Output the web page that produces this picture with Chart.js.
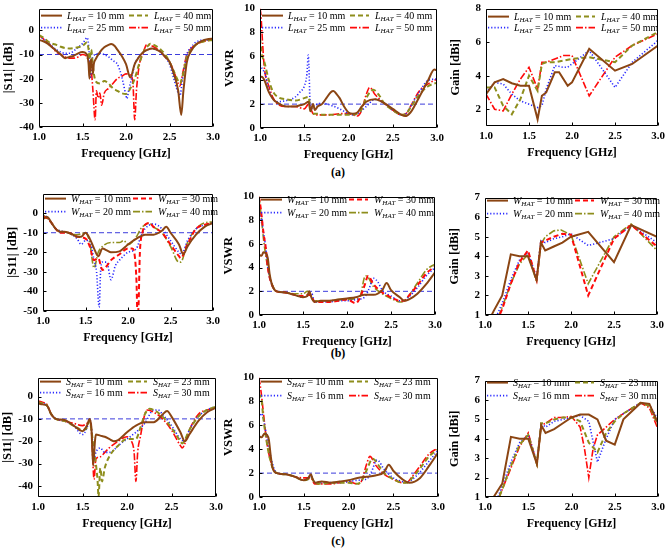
<!DOCTYPE html>
<html><head><meta charset="utf-8">
<script src="https://cdn.jsdelivr.net/npm/chart.js@4.4.0/dist/chart.umd.min.js"></script>
<style>
html,body{margin:0;padding:0;background:#fff;}
body{width:669px;height:549px;position:relative;overflow:hidden;font-family:"Liberation Serif",serif;}
canvas{position:absolute;}
.cap{position:absolute;font:bold 12px "Liberation Serif",serif;color:#000;transform:translate(-50%,-50%);white-space:nowrap;}
</style></head><body>
<div class="cap" style="left:338px;top:172px">(a)</div>
<div class="cap" style="left:338px;top:353px">(b)</div>
<div class="cap" style="left:338px;top:541px">(c)</div>
<script>
// ---------- tick labels ----------
const X_TICKS = [1.0, 1.5, 2.0, 2.5, 3.0];
const S11_TICKS_A = [-40, -30, -20, -10, 0];
const S11_TICKS_B = [-50, -40, -30, -20, -10, 0];
const S11_TICKS_C = [-40, -30, -20, -10, 0];
const VSWR_TICKS = [0, 2, 4, 6, 8, 10];
const GAIN_TICKS_A = [2, 4, 6, 8];
const GAIN_TICKS_BC = [1, 2, 3, 4, 5, 6, 7];

// ---------- (a) L_HAT ----------
const s11a_L10 = [[1.0,-4],[1.05,-4.5],[1.1,-5.5],[1.15,-7],[1.2,-8.5],[1.25,-10],[1.3,-11.5],[1.35,-11],[1.4,-10.5],[1.45,-9.5],[1.5,-9],[1.55,-10],[1.57,-14],[1.58,-20],[1.59,-14],[1.6,-12],[1.61,-15],[1.62,-18],[1.63,-14],[1.65,-12],[1.7,-9],[1.75,-7],[1.8,-6],[1.83,-5.7],[1.87,-6.5],[1.9,-8],[1.95,-10.5],[2.0,-14],[2.05,-19.5],[2.1,-14],[2.15,-11],[2.2,-9],[2.25,-8],[2.3,-7.5],[2.35,-8],[2.4,-9],[2.45,-11],[2.5,-13],[2.55,-18],[2.6,-25],[2.635,-35],[2.66,-25],[2.7,-13],[2.75,-8.5],[2.8,-6],[2.85,-4.8],[2.9,-4],[2.95,-3.6],[3.0,-3.5]];
const s11a_L25 = [[1.0,-2.5],[1.05,-3.5],[1.1,-5],[1.15,-6.5],[1.2,-8],[1.25,-9],[1.3,-9.5],[1.35,-9.5],[1.4,-8.5],[1.45,-7],[1.5,-5.5],[1.53,-4],[1.55,-3],[1.57,-6],[1.58,-12],[1.59,-20],[1.6,-14],[1.62,-11],[1.65,-10],[1.7,-9.5],[1.75,-10],[1.8,-11],[1.85,-12.5],[1.9,-14],[1.95,-19],[2.0,-27],[2.01,-28.3],[2.03,-25],[2.07,-19],[2.1,-14],[2.15,-11],[2.2,-9],[2.25,-8],[2.3,-7.5],[2.35,-8],[2.4,-9],[2.45,-11],[2.5,-14],[2.55,-20],[2.6,-26],[2.62,-27],[2.65,-20],[2.7,-10],[2.75,-7],[2.8,-5],[2.9,-4],[3.0,-4]];
const s11a_L40 = [[1.0,-2],[1.05,-3],[1.1,-4.5],[1.15,-5.5],[1.2,-6],[1.25,-6.8],[1.3,-7.3],[1.35,-7.5],[1.4,-7.3],[1.45,-7],[1.5,-6.5],[1.55,-5],[1.57,-8],[1.58,-12],[1.6,-8],[1.62,-15],[1.65,-21],[1.7,-22],[1.75,-21],[1.8,-22],[1.85,-24],[1.9,-25],[1.95,-26],[2.0,-26.3],[2.05,-24],[2.1,-20],[2.15,-14],[2.2,-9],[2.25,-6.5],[2.28,-5.5],[2.32,-6],[2.4,-8],[2.45,-10],[2.5,-13],[2.55,-17],[2.6,-21],[2.62,-22],[2.65,-19],[2.7,-11],[2.75,-8],[2.8,-6],[2.9,-4.5],[3.0,-4]];
const s11a_L50 = [[1.0,-2],[1.05,-3.5],[1.1,-5],[1.15,-7],[1.2,-9],[1.25,-10],[1.3,-11],[1.35,-11.5],[1.4,-11.5],[1.45,-11],[1.5,-10],[1.55,-11],[1.58,-14],[1.6,-16],[1.62,-25],[1.645,-37],[1.66,-25],[1.68,-28],[1.7,-26],[1.72,-31],[1.75,-26],[1.8,-24],[1.85,-22],[1.9,-20],[1.95,-19],[2.0,-18],[2.05,-18.5],[2.08,-22],[2.1,-37],[2.12,-25],[2.15,-15],[2.2,-9],[2.24,-5.8],[2.3,-6.5],[2.35,-7.5],[2.4,-9],[2.45,-11],[2.5,-13],[2.55,-17],[2.6,-22],[2.62,-23],[2.65,-18],[2.7,-10],[2.75,-7.5],[2.8,-6],[2.9,-4.5],[3.0,-4]];

const vswr_a_L10 = [[1.0,4.2],[1.02,4.3],[1.05,4.0],[1.1,3.0],[1.15,2.4],[1.2,2.1],[1.25,1.9],[1.3,1.8],[1.35,1.8],[1.4,1.8],[1.45,1.9],[1.5,2.0],[1.55,2.2],[1.57,1.4],[1.6,2.0],[1.62,1.5],[1.65,1.8],[1.7,2.0],[1.75,2.5],[1.8,3.0],[1.83,3.1],[1.87,2.8],[1.9,2.5],[1.95,1.8],[2.0,1.3],[2.05,1.2],[2.1,1.3],[2.15,1.8],[2.2,2.2],[2.3,2.4],[2.4,2.1],[2.5,1.6],[2.6,1.1],[2.64,1.0],[2.7,1.3],[2.75,1.9],[2.8,2.6],[2.85,3.3],[2.9,4.0],[2.97,4.9],[3.0,4.8]];
const vswr_a_L25 = [[1.0,5.3],[1.03,4.9],[1.06,4.5],[1.1,3.2],[1.15,2.4],[1.2,2.2],[1.3,2.3],[1.4,2.6],[1.45,3.0],[1.5,3.5],[1.53,4.5],[1.546,6.1],[1.57,1.5],[1.6,1.8],[1.65,2.0],[1.7,2.1],[1.8,1.9],[1.9,1.6],[2.0,1.2],[2.05,1.1],[2.1,1.2],[2.2,1.8],[2.3,2.4],[2.4,2.1],[2.5,1.5],[2.6,1.1],[2.65,1.2],[2.7,1.8],[2.8,3.0],[2.9,4.0],[3.0,4.1]];
const vswr_a_L40 = [[1.0,7.5],[1.02,6.2],[1.05,5.5],[1.1,4.0],[1.15,3.0],[1.2,2.6],[1.3,2.4],[1.4,2.3],[1.5,2.5],[1.55,2.6],[1.57,1.5],[1.6,1.2],[1.65,1.2],[1.7,1.1],[1.8,1.1],[1.9,1.1],[2.0,1.1],[2.1,1.2],[2.15,1.6],[2.2,2.5],[2.28,3.2],[2.35,2.7],[2.4,2.1],[2.5,1.5],[2.6,1.1],[2.65,1.2],[2.7,1.7],[2.8,2.8],[2.9,3.5],[3.0,3.8]];
const vswr_a_L50 = [[1.0,10],[1.01,9.5],[1.03,7],[1.05,5],[1.1,3.5],[1.15,2.5],[1.2,2.0],[1.3,1.8],[1.4,1.8],[1.5,1.6],[1.55,2.0],[1.58,1.5],[1.6,1.2],[1.65,1.1],[1.8,1.1],[1.9,1.2],[2.0,1.2],[2.1,1.0],[2.15,1.5],[2.2,2.8],[2.24,3.4],[2.3,2.8],[2.4,2.1],[2.5,1.5],[2.6,1.1],[2.65,1.2],[2.7,1.8],[2.8,3.1],[2.9,3.7],[3.0,4.1]];

const gain_a_L10 = [[1.0,2.9],[1.1,3.6],[1.2,3.8],[1.3,3.55],[1.4,3.4],[1.5,3.4],[1.6,1.4],[1.65,2.8],[1.7,3.0],[1.8,4.2],[1.85,4.2],[1.95,3.4],[2.0,3.6],[2.2,5.6],[2.5,4.3],[2.7,4.7],[3.0,5.8]];
const gain_a_L25 = [[1.0,3.0],[1.1,3.6],[1.2,3.5],[1.3,2.9],[1.4,2.5],[1.5,2.3],[1.6,2.1],[1.65,2.2],[1.7,3.2],[1.8,4.6],[1.9,4.5],[1.95,4.5],[2.0,4.7],[2.2,5.5],[2.5,3.3],[2.7,4.8],[3.0,6.1]];
const gain_a_L40 = [[1.0,3.3],[1.1,3.3],[1.2,2.2],[1.3,1.7],[1.4,2.6],[1.5,4.0],[1.6,3.1],[1.65,4.7],[1.7,4.8],[1.8,4.8],[2.0,5.0],[2.2,5.1],[2.5,4.8],[2.7,5.8],[3.0,6.6]];
const gain_a_L50 = [[1.0,2.9],[1.1,2.0],[1.2,1.9],[1.3,2.9],[1.4,3.8],[1.5,4.5],[1.6,3.2],[1.65,4.8],[1.7,4.8],[1.8,5.0],[1.9,5.2],[2.0,5.2],[2.2,2.8],[2.5,5.1],[2.7,5.8],[3.0,6.5]];

// ---------- (b) W_HAT ----------
const s11b_W10 = [[1.0,-3],[1.05,-2],[1.1,-5],[1.15,-8],[1.2,-9.5],[1.25,-9.5],[1.3,-10],[1.35,-11],[1.4,-12],[1.45,-12],[1.5,-10],[1.55,-13],[1.6,-18],[1.65,-22],[1.7,-18],[1.75,-19],[1.8,-20],[1.9,-19.5],[2.0,-16],[2.1,-13],[2.2,-11],[2.3,-11],[2.4,-9],[2.45,-7],[2.5,-10],[2.6,-16],[2.65,-21],[2.7,-17],[2.8,-11],[2.9,-7],[3.0,-5]];
const s11b_W20 = [[1.0,-1],[1.05,-2],[1.1,-5],[1.15,-8],[1.2,-9],[1.3,-10],[1.4,-13],[1.45,-16],[1.5,-14],[1.55,-14],[1.6,-24],[1.63,-30],[1.66,-48],[1.68,-28],[1.7,-25],[1.75,-25],[1.8,-34],[1.85,-27],[1.9,-24],[2.0,-20],[2.1,-18],[2.15,-12],[2.2,-8],[2.3,-5.5],[2.4,-8],[2.5,-14],[2.6,-20],[2.63,-21],[2.7,-14],[2.8,-8],[2.9,-6],[3.0,-5]];
const s11b_W30 = [[1.0,-2],[1.05,-2.5],[1.1,-5],[1.15,-8],[1.2,-10],[1.3,-10],[1.4,-12],[1.5,-13],[1.55,-17],[1.6,-24],[1.65,-23],[1.7,-29],[1.75,-27],[1.8,-24],[1.9,-21],[2.0,-18],[2.05,-18],[2.08,-22],[2.1,-35],[2.11,-50],[2.12,-50],[2.14,-20],[2.17,-10],[2.2,-6],[2.25,-5],[2.3,-7],[2.4,-10],[2.5,-16],[2.6,-22],[2.62,-23],[2.7,-16],[2.8,-8],[2.9,-6],[3.0,-5]];
const s11b_W40 = [[1.0,-1],[1.05,-2.5],[1.1,-5],[1.15,-8],[1.2,-9],[1.3,-10],[1.4,-11],[1.5,-10],[1.55,-15],[1.6,-28],[1.65,-20],[1.7,-17],[1.8,-15],[1.9,-15],[1.95,-14],[2.0,-16],[2.1,-12],[2.15,-8],[2.2,-6],[2.25,-5],[2.3,-7],[2.4,-10],[2.5,-17],[2.6,-25],[2.62,-25],[2.7,-15],[2.8,-8],[2.9,-5],[3.0,-4.5]];

const vswr_b_W10 = [[1.0,5.1],[1.03,5.0],[1.05,5.3],[1.08,5.2],[1.1,4.8],[1.12,3.5],[1.15,2.5],[1.2,2.0],[1.3,1.9],[1.4,1.7],[1.5,1.5],[1.55,1.6],[1.57,2.0],[1.6,1.4],[1.63,1.1],[1.7,1.2],[1.8,1.2],[1.9,1.3],[2.0,1.4],[2.1,1.5],[2.2,1.7],[2.3,1.7],[2.4,2.1],[2.45,2.7],[2.5,2.1],[2.6,1.5],[2.65,1.2],[2.7,1.3],[2.8,1.8],[2.9,2.6],[3.0,3.6]];
const vswr_b_W20 = [[1.0,7.5],[1.02,8.6],[1.05,7.0],[1.08,5.5],[1.1,4.0],[1.15,2.5],[1.2,2.0],[1.3,1.9],[1.4,1.7],[1.5,1.5],[1.55,1.6],[1.6,1.8],[1.63,1.1],[1.7,1.1],[1.8,1.1],[1.9,1.2],[2.0,1.2],[2.1,1.3],[2.2,1.5],[2.25,2.2],[2.3,3.1],[2.35,2.8],[2.4,2.1],[2.5,1.6],[2.6,1.2],[2.65,1.2],[2.7,1.5],[2.8,2.3],[2.9,3.3],[3.0,4.0]];
const vswr_b_W30 = [[1.0,10],[1.02,9],[1.05,7],[1.08,5.5],[1.1,4],[1.15,2.5],[1.2,2.0],[1.3,1.9],[1.4,1.7],[1.5,1.6],[1.55,1.7],[1.6,1.6],[1.63,1.1],[1.7,1.1],[1.8,1.1],[1.9,1.2],[2.0,1.3],[2.1,1.0],[2.15,1.5],[2.2,2.5],[2.24,3.3],[2.3,2.6],[2.4,1.9],[2.5,1.5],[2.6,1.2],[2.65,1.2],[2.7,1.6],[2.8,2.5],[2.9,3.5],[3.0,4.1]];
const vswr_b_W40 = [[1.0,10],[1.03,8],[1.05,6.5],[1.1,4],[1.15,2.6],[1.2,2.0],[1.3,1.9],[1.4,1.8],[1.5,1.8],[1.55,2.0],[1.58,1.8],[1.62,1.2],[1.7,1.2],[1.8,1.2],[1.9,1.3],[2.0,1.3],[2.1,1.4],[2.15,1.6],[2.2,3.2],[2.22,3.3],[2.3,2.4],[2.4,1.8],[2.5,1.4],[2.6,1.1],[2.65,1.2],[2.7,1.6],[2.8,2.7],[2.9,3.8],[3.0,4.3]];

const gain_b_W10 = [[1.0,0.3],[1.1,1.2],[1.2,2.0],[1.3,4.1],[1.4,4.0],[1.5,4.0],[1.6,2.8],[1.65,4.7],[1.7,4.3],[1.8,4.5],[1.9,4.7],[2.0,5.0],[2.2,5.25],[2.5,3.7],[2.7,5.6],[3.0,5.0]];
const gain_b_W20 = [[1.1,0.6],[1.2,1.6],[1.3,2.8],[1.4,3.8],[1.5,4.2],[1.6,2.9],[1.65,4.8],[1.7,4.7],[1.8,4.9],[1.9,5.0],[2.0,5.15],[2.2,4.55],[2.5,4.9],[2.7,5.6],[3.0,4.7]];
const gain_b_W30 = [[1.1,0.3],[1.2,1.3],[1.3,2.6],[1.4,3.7],[1.5,4.3],[1.6,2.8],[1.65,4.7],[1.7,4.8],[1.8,5.0],[1.9,5.15],[2.0,5.1],[2.2,2.0],[2.5,4.9],[2.7,5.6],[3.0,4.5]];
const gain_b_W40 = [[1.1,0.3],[1.2,1.4],[1.3,2.6],[1.4,3.6],[1.5,4.1],[1.6,2.7],[1.65,4.6],[1.7,5.0],[1.8,5.3],[1.88,5.35],[2.0,5.1],[2.2,2.6],[2.5,5.0],[2.7,5.65],[3.0,4.3]];

// ---------- (c) S_HAT ----------
const s11c_S10 = [[1.0,-3],[1.05,-3.5],[1.1,-4],[1.15,-8],[1.2,-10],[1.3,-10.5],[1.4,-13],[1.5,-15.5],[1.55,-13],[1.58,-10],[1.6,-14],[1.62,-31],[1.64,-20],[1.65,-17],[1.7,-17.5],[1.75,-18],[1.8,-19],[1.85,-20],[1.9,-19.5],[2.0,-16],[2.1,-13],[2.2,-11.5],[2.3,-11.5],[2.4,-8],[2.45,-6.5],[2.5,-9],[2.6,-16],[2.65,-20],[2.7,-17],[2.8,-11],[2.9,-7],[3.0,-5]];
const s11c_S16 = [[1.0,-2.5],[1.05,-3],[1.1,-4],[1.15,-8],[1.2,-10],[1.3,-11],[1.4,-13],[1.5,-17],[1.55,-14],[1.58,-10],[1.6,-14],[1.63,-28],[1.65,-25],[1.7,-23],[1.75,-25],[1.8,-25],[1.85,-24],[1.9,-22],[2.0,-19],[2.1,-16],[2.2,-12],[2.3,-6],[2.35,-6],[2.4,-8],[2.5,-13],[2.6,-19],[2.65,-20],[2.7,-15],[2.8,-9],[2.9,-6],[3.0,-4.5]];
const s11c_S23 = [[1.0,-2.5],[1.05,-3],[1.1,-4],[1.15,-8],[1.2,-10],[1.3,-11],[1.4,-13],[1.5,-15],[1.55,-14],[1.58,-11],[1.6,-15],[1.63,-25],[1.65,-30],[1.67,-38],[1.68,-45],[1.7,-32],[1.72,-38],[1.75,-32],[1.8,-27],[1.9,-22],[2.0,-19],[2.05,-19],[2.1,-19],[2.15,-14],[2.2,-8],[2.25,-5.5],[2.3,-6],[2.4,-9],[2.5,-14],[2.6,-20],[2.62,-21],[2.7,-15],[2.8,-9],[2.9,-6],[3.0,-4.5]];
const s11c_S30 = [[1.0,-2],[1.05,-2.5],[1.1,-3.5],[1.15,-8],[1.2,-10],[1.3,-11],[1.4,-12],[1.5,-13],[1.55,-12],[1.58,-11],[1.6,-15],[1.63,-37],[1.65,-28],[1.7,-27],[1.75,-25],[1.8,-23],[1.9,-20],[2.0,-18],[2.05,-20],[2.08,-25],[2.1,-38],[2.12,-25],[2.15,-18],[2.2,-8],[2.23,-6],[2.3,-7],[2.4,-10],[2.5,-15],[2.6,-22],[2.62,-23],[2.7,-15],[2.8,-8],[2.9,-6],[3.0,-5]];

const vswr_c_S10 = [[1.0,5.1],[1.03,5.0],[1.06,5.3],[1.09,5.2],[1.11,4.8],[1.13,3.5],[1.15,2.5],[1.2,2.0],[1.3,1.9],[1.4,1.7],[1.5,1.4],[1.55,1.6],[1.58,1.9],[1.6,1.5],[1.63,1.2],[1.7,1.3],[1.8,1.2],[1.9,1.3],[2.0,1.4],[2.1,1.6],[2.2,1.7],[2.3,1.8],[2.4,2.1],[2.45,2.7],[2.5,2.2],[2.6,1.5],[2.68,1.2],[2.8,1.6],[2.9,2.6],[3.0,3.7]];
const vswr_c_S16 = [[1.0,6.6],[1.03,7.0],[1.05,6.5],[1.1,4.5],[1.15,2.8],[1.2,2.0],[1.3,1.9],[1.4,1.7],[1.5,1.4],[1.55,1.5],[1.58,1.8],[1.6,1.5],[1.63,1.2],[1.7,1.2],[1.8,1.2],[1.9,1.2],[2.0,1.3],[2.1,1.4],[2.2,1.5],[2.25,2.0],[2.32,3.1],[2.4,2.3],[2.5,1.6],[2.6,1.3],[2.65,1.2],[2.7,1.4],[2.8,2.1],[2.9,3.0],[3.0,3.9]];
const vswr_c_S23 = [[1.0,8.3],[1.02,8.5],[1.05,6.5],[1.1,4.0],[1.15,2.5],[1.2,2.0],[1.3,1.9],[1.4,1.7],[1.5,1.4],[1.55,1.5],[1.58,1.7],[1.62,1.2],[1.7,1.1],[1.8,1.2],[1.9,1.2],[2.0,1.2],[2.1,1.1],[2.15,1.4],[2.2,2.2],[2.27,3.2],[2.35,2.5],[2.4,2.0],[2.5,1.5],[2.6,1.2],[2.65,1.2],[2.7,1.5],[2.8,2.4],[2.9,3.4],[3.0,4.0]];
const vswr_c_S30 = [[1.0,10],[1.02,9.0],[1.05,7],[1.08,5],[1.1,4],[1.15,2.5],[1.2,2.0],[1.3,1.9],[1.4,1.7],[1.5,1.6],[1.55,1.6],[1.58,1.6],[1.62,1.1],[1.7,1.1],[1.8,1.1],[1.9,1.2],[2.0,1.3],[2.1,1.1],[2.15,1.4],[2.2,2.7],[2.24,3.4],[2.3,2.7],[2.4,1.9],[2.5,1.5],[2.6,1.2],[2.65,1.2],[2.7,1.6],[2.8,2.6],[2.9,3.6],[3.0,4.1]];

const gain_c_S10 = [[1.0,0.4],[1.1,1.0],[1.2,1.7],[1.3,4.1],[1.4,4.0],[1.5,4.0],[1.6,2.7],[1.65,4.7],[1.7,4.3],[1.8,4.5],[1.9,4.8],[2.0,5.1],[2.1,5.25],[2.2,5.25],[2.3,5.0],[2.4,3.9],[2.5,3.7],[2.6,5.0],[2.8,5.85],[2.9,5.8],[3.0,4.8]];
const gain_c_S16 = [[1.1,0.4],[1.2,1.6],[1.3,2.8],[1.4,3.8],[1.5,4.2],[1.6,2.8],[1.65,4.8],[1.7,4.6],[1.8,4.9],[1.9,5.0],[2.0,5.1],[2.1,5.2],[2.2,4.9],[2.3,2.8],[2.4,4.0],[2.5,5.0],[2.6,5.3],[2.8,5.85],[2.9,5.75],[3.0,5.0]];
const gain_c_S23 = [[1.1,0.3],[1.2,1.4],[1.3,2.6],[1.4,3.7],[1.5,4.2],[1.6,2.7],[1.65,4.8],[1.7,4.8],[1.8,5.0],[1.9,5.1],[2.0,5.1],[2.1,4.9],[2.2,3.8],[2.3,3.3],[2.4,4.3],[2.5,4.9],[2.6,5.3],[2.8,5.85],[2.9,5.7],[3.0,4.7]];
const gain_c_S30 = [[1.1,0.3],[1.2,1.4],[1.3,2.5],[1.4,3.6],[1.5,4.3],[1.6,2.7],[1.65,4.7],[1.7,4.8],[1.8,5.1],[1.9,5.1],[2.0,5.15],[2.1,4.6],[2.15,3.5],[2.2,2.0],[2.25,3.5],[2.3,4.2],[2.4,4.6],[2.5,5.0],[2.6,5.3],[2.8,5.85],[2.9,5.6],[3.0,4.5]];

// ---------- styles ----------
const COL = {brown:'#8B4513', olive:'#8E8E1C', blue:'#2828FF', red:'#FF0A0A', ref:'#3C3CDC'};
const STY = {
  solid:{dash:[], w:2},
  dashed:{dash:[5,3], w:2},
  dotted:{dash:[1.2,2], w:1.6},
  dashdot:{dash:[7,2,1.5,2], w:1.6}
};
const FONT = "'Liberation Serif', 'Times New Roman', serif";

const decor = {
  id:'decor',
  afterDatasetsDraw(chart){
    const p = chart.options.plugins.decor;
    const {ctx, chartArea:a} = chart;
    const L=Math.round(a.left)+0.5, T=Math.round(a.top)+0.5, R=Math.round(a.right)-0.5, B=Math.round(a.bottom)-0.5;
    ctx.save();
    ctx.strokeStyle='#000'; ctx.lineWidth=1; ctx.setLineDash([]);
    ctx.beginPath();
    ctx.rect(L,T,R-L,B-T);
    const xs=chart.scales.x, ys=chart.scales.y;
    xs.ticks.forEach(t=>{const x=Math.round(xs.getPixelForValue(t.value))+0.5; ctx.moveTo(x,B); ctx.lineTo(x,B-3);});
    ys.ticks.forEach(t=>{const y=Math.round(ys.getPixelForValue(t.value))+0.5; ctx.moveTo(L,y); ctx.lineTo(L+3,y);});
    ctx.stroke();
    // legend inside the plot
    p.entries.forEach((e,i)=>{
      const col=i%2, row=(i/2)|0;
      const y=a.top+p.rows[row];
      const x0=a.left+(col?90:2), x1=a.left+(col?109:23), tx=a.left+(col?115:28);
      ctx.strokeStyle=COL[e.color]; ctx.lineWidth=STY[e.style].w; ctx.setLineDash(STY[e.style].dash);
      ctx.beginPath(); ctx.moveTo(x0,y); ctx.lineTo(x1,y); ctx.stroke();
      ctx.setLineDash([]);
      ctx.fillStyle='#000'; ctx.textBaseline='alphabetic'; ctx.textAlign='left';
      let x=tx; const base=y+3.5;
      ctx.font='italic 10px '+FONT; ctx.fillText(p.sym,x,base); x+=ctx.measureText(p.sym).width;
      ctx.font='italic 7px '+FONT; ctx.fillText('HAT',x,base+2); x+=ctx.measureText('HAT').width;
      ctx.font='10px '+FONT; ctx.fillText(' = '+e.val+' mm',x,base);
    });
    ctx.restore();
  }
};

const panels = [
  {box:[39,5,213,127], y:[-40,9], yt:S11_TICKS_A, title:'|S11| [dB]', ref:-10, smooth:true, sym:'L', rows:[7,19],
   series:[[s11a_L10,'brown','solid','10'],[s11a_L40,'olive','dashed','40'],[s11a_L25,'blue','dotted','25'],[s11a_L50,'red','dashdot','50']]},
  {box:[260,5,437,128], y:[0,10], yt:VSWR_TICKS, title:'VSWR', ref:2, smooth:true, sym:'L', rows:[7,19],
   series:[[vswr_a_L10,'brown','solid','10'],[vswr_a_L40,'olive','dashed','40'],[vswr_a_L25,'blue','dotted','25'],[vswr_a_L50,'red','dashdot','50']]},
  {box:[486,5,658,126], y:[1,8], yt:GAIN_TICKS_A, title:'Gain [dBi]', ref:null, smooth:false, sym:'L', rows:[8,19],
   series:[[gain_a_L10,'brown','solid','10'],[gain_a_L40,'olive','dashed','40'],[gain_a_L25,'blue','dotted','25'],[gain_a_L50,'red','dashdot','50']]},
  {box:[43,190,213,311], y:[-50,10], yt:S11_TICKS_B, title:'|S11| [dB]', ref:-10, smooth:true, sym:'W', rows:[5,18],
   series:[[s11b_W10,'brown','solid','10'],[s11b_W30,'red','dashed','30'],[s11b_W20,'blue','dotted','20'],[s11b_W40,'olive','dashdot','40']]},
  {box:[259,193,435,315], y:[0,10], yt:VSWR_TICKS, title:'VSWR', ref:2, smooth:true, sym:'W', rows:[3,16],
   series:[[vswr_b_W10,'brown','solid','10'],[vswr_b_W30,'red','dashed','30'],[vswr_b_W20,'blue','dotted','20'],[vswr_b_W40,'olive','dashdot','40']]},
  {box:[485,194,657,315], y:[1,7], yt:GAIN_TICKS_BC, title:'Gain [dBi]', ref:null, smooth:false, sym:'W', rows:[3,16],
   series:[[gain_b_W10,'brown','solid','10'],[gain_b_W30,'red','dashed','30'],[gain_b_W20,'blue','dotted','20'],[gain_b_W40,'olive','dashdot','40']]},
  {box:[38,374,216,497], y:[-45,8.5], yt:S11_TICKS_C, title:'|S11| [dB]', ref:-10, smooth:true, sym:'S', rows:[4,15],
   series:[[s11c_S10,'brown','solid','10'],[s11c_S23,'olive','dashed','23'],[s11c_S16,'blue','dotted','16'],[s11c_S30,'red','dashdot','30']]},
  {box:[259,374,438,497], y:[0,10], yt:VSWR_TICKS, title:'VSWR', ref:2, smooth:true, sym:'S', rows:[4,18],
   series:[[vswr_c_S10,'brown','solid','10'],[vswr_c_S23,'olive','dashed','23'],[vswr_c_S16,'blue','dotted','16'],[vswr_c_S30,'red','dashdot','30']]},
  {box:[485,377,658,497], y:[1,7], yt:GAIN_TICKS_BC, title:'Gain [dBi]', ref:null, smooth:false, sym:'S', rows:[2,15],
   series:[[gain_c_S10,'brown','solid','10'],[gain_c_S23,'olive','dashed','23'],[gain_c_S16,'blue','dotted','16'],[gain_c_S30,'red','dashdot','30']]}
];

const YW=40, XH=40, PT=8, PR=12;
panels.forEach(p=>{
  const [l,t,r,b]=p.box;
  const cv=document.createElement('canvas');
  const W=r-l+YW+PR, H=b-t+PT+XH;
  cv.width=W; cv.height=H;
  cv.style.left=(l-YW)+'px'; cv.style.top=(t-PT)+'px';
  cv.style.width=W+'px'; cv.style.height=H+'px';
  document.body.appendChild(cv);
  const datasets=p.series.map((s,i)=>({
    data:s[0].map(d=>({x:d[0],y:d[1]})),
    borderColor:COL[s[1]], borderWidth:STY[s[2]].w, borderDash:STY[s[2]].dash,
    pointRadius:0, fill:false, order:i+1,
    cubicInterpolationMode: p.smooth?'monotone':'default', tension:0
  }));
  if(p.ref!==null){
    datasets.push({data:[{x:1,y:p.ref},{x:3,y:p.ref}], borderColor:COL.ref, borderWidth:1, borderDash:[5,3], pointRadius:0, fill:false, order:20});
  }
  new Chart(cv,{
    type:'line',
    data:{datasets},
    options:{
      responsive:false, animation:false, devicePixelRatio:1,
      events:[],
      layout:{padding:{top:PT,right:PR,left:0,bottom:0}},
      plugins:{legend:{display:false}, tooltip:{enabled:false},
        decor:{entries:p.series.map(s=>({color:s[1],style:s[2],val:s[3]})), rows:p.rows, sym:p.sym}},
      scales:{
        x:{type:'linear', min:1, max:3,
          grid:{display:false, drawTicks:false}, border:{display:false},
          afterBuildTicks:s=>{s.ticks=X_TICKS.map(v=>({value:v}));},
          afterFit:s=>{s.height=XH;},
          ticks:{autoSkip:false, maxRotation:0, padding:4, color:'#000', font:{family:FONT,size:11,weight:'bold'}, callback:v=>Number(v).toFixed(1)},
          title:{display:true, text:'Frequency [GHz]', color:'#000', font:{family:FONT,size:12,weight:'bold'}, padding:{top:0,bottom:6}}
        },
        y:{type:'linear', min:p.y[0], max:p.y[1],
          grid:{display:false, drawTicks:false}, border:{display:false},
          afterBuildTicks:s=>{s.ticks=p.yt.map(v=>({value:v}));},
          afterFit:s=>{s.width=YW;},
          ticks:{autoSkip:false, padding:5, color:'#000', font:{family:FONT,size:11,weight:'bold'}, callback:v=>String(v)},
          title:{display:true, text:p.title, color:'#000', font:{family:FONT,size:12.5,weight:'bold'}, padding:{top:2,bottom:0}}
        }
      }
    },
    plugins:[decor]
  });
});
</script>
</body></html>
